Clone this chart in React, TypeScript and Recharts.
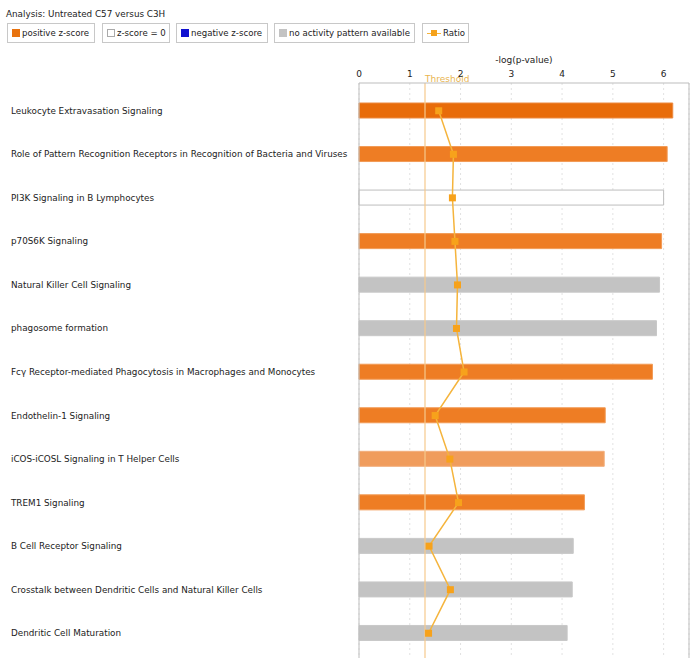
import React from "react";
import {
  ComposedChart,
  Bar,
  Line,
  XAxis,
  YAxis,
  CartesianGrid,
  ReferenceLine,
  Cell,
} from "recharts";

const categories = [
  "Leukocyte Extravasation Signaling",
  "Role of Pattern Recognition Receptors in Recognition of Bacteria and Viruses",
  "PI3K Signaling in B Lymphocytes",
  "p70S6K Signaling",
  "Natural Killer Cell Signaling",
  "phagosome formation",
  "Fcγ Receptor-mediated Phagocytosis in Macrophages and Monocytes",
  "Endothelin-1 Signaling",
  "iCOS-iCOSL Signaling in T Helper Cells",
  "TREM1 Signaling",
  "B Cell Receptor Signaling",
  "Crosstalk between Dendritic Cells and Natural Killer Cells",
  "Dendritic Cell Maturation",
];

const logP = [6.18, 6.07, 6.0, 5.96, 5.92, 5.86, 5.78, 4.85, 4.83, 4.44, 4.22, 4.2, 4.1];

// ratio plotted on the same visual scale as in the reference
const ratio = [1.57, 1.86, 1.84, 1.89, 1.94, 1.92, 2.07, 1.5, 1.79, 1.96, 1.38, 1.8, 1.37];

const zGroup = [
  "posDark",
  "pos",
  "zero",
  "pos",
  "none",
  "none",
  "pos",
  "pos",
  "posLight",
  "pos",
  "none",
  "none",
  "none",
];

const xTicks = [0, 1, 2, 3, 4, 5, 6];
const threshold = 1.3;

const fillFor: Record<string, string> = {
  posDark: "#e86c0a",
  pos: "#ee7d24",
  posLight: "#f09c5c",
  zero: "#ffffff",
  none: "#c3c3c3",
};
const strokeFor: Record<string, string> = {
  posDark: "#ec8a40",
  pos: "#f29a55",
  posLight: "#f2ae7c",
  zero: "#bdbdbd",
  none: "#c8c8c8",
};

const data = categories.map((name, i) => ({
  name,
  logP: logP[i],
  ratio: ratio[i],
  group: zGroup[i],
}));

const FONT = "'DejaVu Sans', Verdana, sans-serif";

const legendItems = [
  { label: "positive z-score", kind: "sq", color: "#e8730f", border: "#e8730f", x: 7, w: 88 },
  { label: "z-score = 0", kind: "sq", color: "#ffffff", border: "#aaaaaa", x: 102, w: 68 },
  { label: "negative z-score", kind: "sq", color: "#1010d0", border: "#1010d0", x: 176, w: 92 },
  { label: "no activity pattern available", kind: "sq", color: "#c3c3c3", border: "#c3c3c3", x: 274, w: 141 },
  { label: "Ratio", kind: "line", color: "#f5a21b", border: "#f5a21b", x: 422, w: 47 },
];

const YTick = (props: any) => {
  const { y, payload } = props;
  return (
    <text x={11} y={y} dy={3} fontSize={8.8} fontFamily={FONT} fill="#222" textAnchor="start">
      {payload.value}
    </text>
  );
};

const RatioDot = (props: any) => {
  const { cx, cy } = props;
  if (cx == null || cy == null) return null;
  return <rect x={cx - 3.5} y={cy - 3.5} width={7} height={7} fill="#f7a21b" />;
};

const ThresholdLabel = (props: any) => {
  const { viewBox } = props;
  return (
    <text
      x={viewBox.x}
      y={viewBox.y - 1}
      fontSize={9}
      fontFamily={FONT}
      fill="#e9b54f"
      textAnchor="start"
    >
      Threshold
    </text>
  );
};

export default function App() {
  return (
    <div
      style={{
        position: "fixed",
        left: 0,
        top: 0,
        width: 700,
        height: 664,
        background: "#fff",
        fontFamily: FONT,
        overflow: "hidden",
      }}
    >
      <div style={{ position: "absolute", left: 0, top: 0 }}>
        <ComposedChart
          width={700}
          height={664}
          data={data}
          layout="vertical"
          margin={{ top: 50, right: 11, bottom: 6, left: 0 }}
        >
          <CartesianGrid
            horizontal={false}
            vertical={true}
            stroke="#e2e2e2"
            strokeDasharray="2 3"
          />
          <XAxis
            type="number"
            orientation="top"
            domain={[0, 6.5]}
            ticks={xTicks}
            height={33}
            axisLine={{ stroke: "#bdbdbd" }}
            tickLine={false}
            tickSize={4}
            tickMargin={2}
            tick={{ fontSize: 9, fontFamily: FONT, fill: "#222" }}
            label={{
              value: "-log(p-value)",
              position: "insideTop",
              offset: 7,
              fontSize: 9,
              fontFamily: FONT,
              fill: "#222",
            }}
          />
          <YAxis
            type="category"
            dataKey="name"
            width={359}
            axisLine={{ stroke: "#bdbdbd" }}
            tickLine={false}
            tick={<YTick />}
            interval={0}
            padding={{ top: 6, bottom: 3 }}
          />
          <Bar dataKey="logP" barSize={15} isAnimationActive={false}>
            {data.map((d, i) => (
              <Cell key={i} fill={fillFor[d.group]} stroke={strokeFor[d.group]} strokeWidth={1} />
            ))}
          </Bar>
          <ReferenceLine
            x={threshold}
            stroke="#f6c98c"
            strokeWidth={1.2}
            label={<ThresholdLabel />}
          />
          <ReferenceLine x={6.5} stroke="#bdbdbd" />
          <Line
            dataKey="ratio"
            type="linear"
            stroke="#f5b43c"
            strokeWidth={1.5}
            dot={<RatioDot />}
            activeDot={false}
            isAnimationActive={false}
          />
        </ComposedChart>
      </div>
      <div
        style={{
          position: "absolute",
          left: 6,
          top: 9,
          fontSize: 8.8,
          color: "#222",
          whiteSpace: "nowrap",
          zIndex: 2,
        }}
      >
        Analysis: Untreated C57 versus C3H
      </div>
      {legendItems.map((it) => (
        <div
          key={it.label}
          style={{
            position: "absolute",
            left: it.x,
            top: 23,
            width: it.w,
            height: 20,
            boxSizing: "border-box",
            border: "1px solid #c8c8c8",
            display: "flex",
            alignItems: "center",
            paddingLeft: 4,
            fontSize: 8.6,
            color: "#222",
            whiteSpace: "nowrap",
            zIndex: 2,
            background: "#fff",
          }}
        >
          {it.kind === "sq" ? (
            <span
              style={{
                display: "inline-block",
                flex: "none",
                width: 6,
                height: 6,
                background: it.color,
                border: `1px solid ${it.border}`,
                marginRight: 2,
              }}
            />
          ) : (
            <span
              style={{
                position: "relative",
                display: "inline-block",
                flex: "none",
                width: 14,
                height: 7,
                marginRight: 2,
              }}
            >
              <span
                style={{
                  position: "absolute",
                  left: 0,
                  top: 3,
                  width: 14,
                  height: 1.5,
                  background: "#f5b43c",
                }}
              />
              <span
                style={{
                  position: "absolute",
                  left: 4,
                  top: 0,
                  width: 6,
                  height: 6,
                  background: it.color,
                }}
              />
            </span>
          )}
          {it.label}
        </div>
      ))}
    </div>
  );
}
